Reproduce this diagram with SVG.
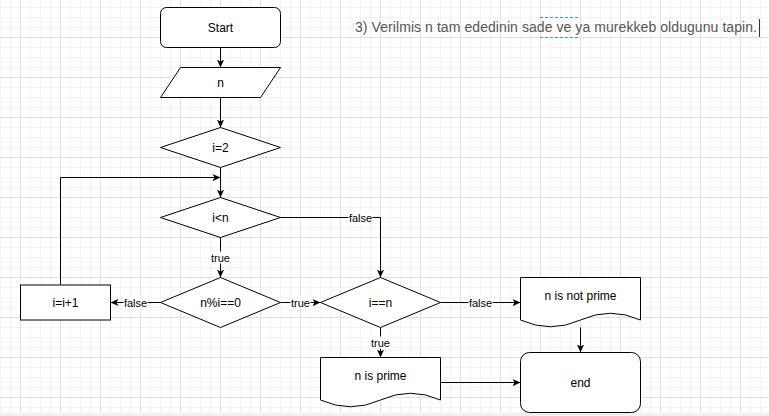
<svg xmlns="http://www.w3.org/2000/svg" width="769" height="416" viewBox="0 0 769 416">
<defs>
<pattern id="grid" patternUnits="userSpaceOnUse" x="20" y="37" width="40" height="40">
<path d="M10.5,0 V40 M20.5,0 V40 M30.5,0 V40 M0,10.5 H40 M0,20.5 H40 M0,30.5 H40" stroke="#f3f3f3" stroke-width="1" fill="none"/>
<path d="M0.5,0 V40 M0,0.5 H40" stroke="#e0e0e0" stroke-width="1" fill="none"/>
</pattern>
<marker id="arr" viewBox="0 0 10 10" refX="10" refY="5" markerWidth="8" markerHeight="8" markerUnits="userSpaceOnUse" orient="auto">
<path d="M0,0.5 L10,5 L0,9.5 L2.5,5 Z" fill="#000"/>
</marker>
<style>
.shape{fill:#fff;stroke:#000;stroke-width:1}
.edge{fill:none;stroke:#000;stroke-width:1;marker-end:url(#arr)}
.lbl{font-family:"Liberation Sans",Helvetica,Arial,sans-serif;font-size:12px;fill:#000;text-anchor:middle}
.elbl{font-family:"Liberation Sans",Helvetica,Arial,sans-serif;font-size:11px;fill:#000;text-anchor:middle}
.lbg{fill:#fff}
.title{font-family:"Liberation Sans",Helvetica,Arial,sans-serif;font-size:14px;fill:#555}
</style>
</defs>
<rect width="769" height="416" fill="#fff"/>
<rect width="769" height="416" fill="url(#grid)"/>
<rect x="0" y="413" width="769" height="3" fill="#f0f0f0"/>
<g transform="translate(0.5,0.5)">
<g id="connectors">
<path class="edge" d="M220,47 V67"/>
<path class="edge" d="M220,97 V127"/>
<path class="edge" d="M220,167 V197"/>
<path class="edge" d="M60,284 V177 H220"/>
<path class="edge" d="M220,237 V277"/>
<path class="edge" d="M280,217 H380 V277"/>
<path class="edge" d="M160,302 H110"/>
<path class="edge" d="M280,302 H320"/>
<path class="edge" d="M440,302 H520"/>
<path class="edge" d="M380,327 V357"/>
<path class="edge" d="M580,327 V352"/>
<path class="edge" d="M440,382 H520"/>
<rect class="lbg" x="208" y="251" width="24" height="12"/>
<text class="elbl" x="220" y="261">true</text>
<rect class="lbg" x="348" y="211" width="24" height="12"/>
<text class="elbl" x="360" y="221">false</text>
<rect class="lbg" x="123" y="296" width="24" height="12"/>
<text class="elbl" x="135" y="306">false</text>
<rect class="lbg" x="290" y="296" width="20" height="12"/>
<text class="elbl" x="300" y="306">true</text>
<rect class="lbg" x="468" y="296" width="24" height="12"/>
<text class="elbl" x="480" y="306">false</text>
<rect class="lbg" x="370" y="336" width="20" height="12"/>
<text class="elbl" x="380" y="346">true</text>
</g>
<g id="start">
<rect class="shape" x="160" y="7" width="120" height="40" rx="6" ry="6"/>
<text class="lbl" x="220" y="31">Start</text>
</g>
<g id="input-n">
<polygon class="shape" points="180,67 280,67 260,97 160,97"/>
<text class="lbl" x="220" y="86">n</text>
</g>
<g id="init-i">
<polygon class="shape" points="220,127 280,147 220,167 160,147"/>
<text class="lbl" x="220" y="151">i=2</text>
</g>
<g id="cond-i-lt-n">
<polygon class="shape" points="220,197 280,217 220,237 160,217"/>
<text class="lbl" x="220" y="221">i&lt;n</text>
</g>
<g id="cond-mod">
<polygon class="shape" points="220,277 280,302 220,327 160,302"/>
<text class="lbl" x="220" y="306">n%i==0</text>
</g>
<g id="cond-eq">
<polygon class="shape" points="380,277 440,302 380,327 320,302"/>
<text class="lbl" x="380" y="306">i==n</text>
</g>
<g id="increment">
<rect class="shape" x="20" y="284.5" width="90" height="35"/>
<text class="lbl" x="65" y="306">i=i+1</text>
</g>
<g id="not-prime">
<path class="shape" d="M520,277 H640 V319.5 Q610,306 580,319.5 Q550,333 520,319.5 Z"/>
<text class="lbl" x="580" y="299">n is not prime</text>
</g>
<g id="prime">
<path class="shape" d="M320,357 H440 V399.5 Q410,386 380,399.5 Q350,413 320,399.5 Z"/>
<text class="lbl" x="380" y="379">n is prime</text>
</g>
<g id="end">
<rect class="shape" x="520" y="352" width="120" height="60" rx="9" ry="9"/>
<text class="lbl" x="580" y="386">end</text>
</g>
</g>
<g id="title">
<text class="title" x="355" y="32" textLength="402" lengthAdjust="spacing">3) Verilmis n tam ededinin sade ve ya murekkeb oldugunu tapin.</text>
<path d="M540,17.5 H580 M540,37.5 H580" stroke="#3399ff" stroke-width="1" stroke-dasharray="3,2" fill="none"/>
<path d="M759.5,19 V37" stroke="#333" stroke-width="1"/>
</g>
</svg>
